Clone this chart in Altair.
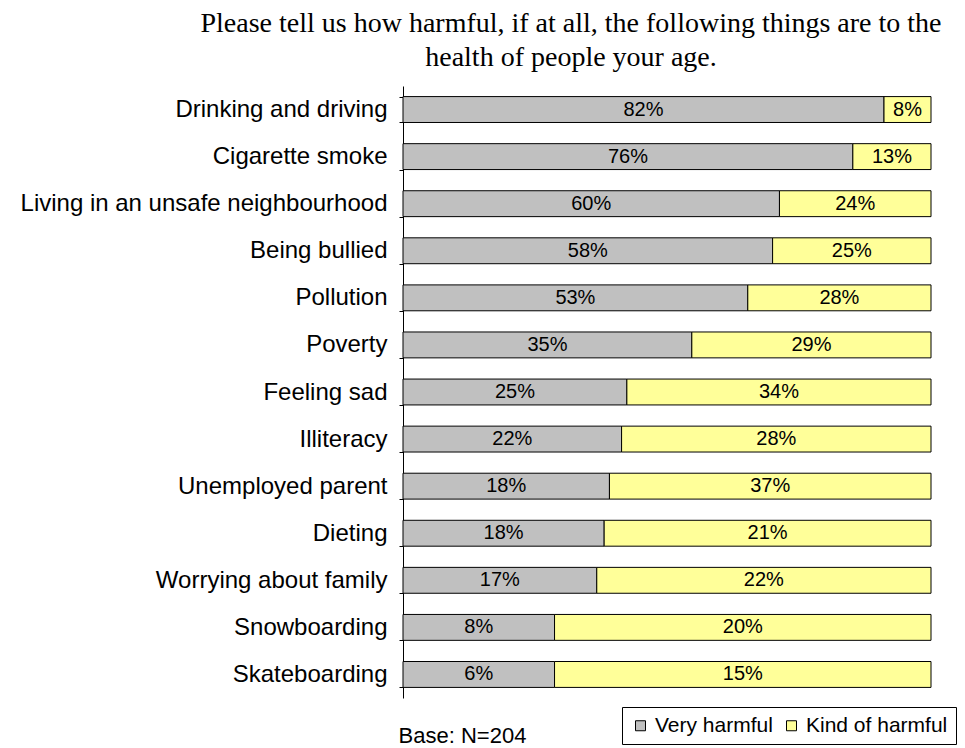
import altair as alt
import pandas as pd

categories = [
    "Drinking and driving",
    "Cigarette smoke",
    "Living in an unsafe neighbourhood",
    "Being bullied",
    "Pollution",
    "Poverty",
    "Feeling sad",
    "Illiteracy",
    "Unemployed parent",
    "Dieting",
    "Worrying about family",
    "Snowboarding",
    "Skateboarding",
]
# percentages printed on the bars
very_harmful = [82, 76, 60, 58, 53, 35, 25, 22, 18, 18, 17, 8, 6]
kind_of_harmful = [8, 13, 24, 25, 28, 29, 34, 28, 37, 21, 22, 20, 15]
# share of each bar drawn grey (%) (100% stacked bars)
very_share = [91.1, 85.2, 71.3, 70.0, 65.3, 54.7, 42.4, 41.4, 39.1, 38.1, 36.7, 28.7, 28.7]

series = ["Very harmful", "Kind of harmful"]
colors = ["#C0C0C0", "#FFFF99"]

rows = []
for c, v, k, s in zip(categories, very_harmful, kind_of_harmful, very_share):
    rows.append({"cat": c, "type": series[0], "value": v, "share": s, "order": 0})
    rows.append({"cat": c, "type": series[1], "value": k, "share": 100 - s, "order": 1})
df = pd.DataFrame(rows)

base = (
    alt.Chart(df)
    .transform_stack(
        stack="share",
        groupby=["cat"],
        as_=["x0", "x1"],
        offset="normalize",
        sort=[alt.SortField("order", order="ascending")],
    )
    .transform_calculate(mid="(datum.x0 + datum.x1) / 2", label="datum.value + '%'")
)

yenc = alt.Y(
    "cat:N",
    sort=categories,
    scale=alt.Scale(paddingInner=0.45, paddingOuter=0.225),
    axis=alt.Axis(
        title=None,
        labelFont="Liberation Sans",
        labelFontSize=24,
        labelColor="black",
        labelPadding=12,
        labelLimit=0,
        domainColor="black",
        domainWidth=1,
        ticks=True,
        tickBand="extent",
        tickSize=4,
        tickColor="black",
        grid=False,
    ),
)

bars = base.mark_bar(stroke="black", strokeWidth=1).encode(
    x=alt.X(
        "x0:Q",
        scale=alt.Scale(domain=[0, 1], nice=False),
        axis=alt.Axis(
            title="Base: N=204",
            labels=False,
            ticks=False,
            domain=False,
            grid=False,
            titleFont="Liberation Sans",
            titleFontSize=22,
            titleFontWeight="normal",
            titleColor="black",
            titleX=59,
            titleY=44,
            titleAlign="center",
            titleBaseline="alphabetic",
        ),
    ),
    x2="x1:Q",
    y=yenc,
    color=alt.Color(
        "type:N",
        scale=alt.Scale(domain=series, range=colors),
        legend=alt.Legend(
            title=None,
            orient="none",
            legendX=219,
            legendY=621,
            direction="horizontal",
            strokeColor="black",
            fillColor="white",
            padding=8,
            labelFont="Liberation Sans",
            labelFontSize=21,
            labelColor="black",
            symbolType="square",
            symbolSize=100,
            symbolStrokeColor="black",
            symbolStrokeWidth=1,
            columnPadding=8,
            labelOffset=4,
        ),
    ),
)

text = base.mark_text(
    font="Liberation Sans", fontSize=20, color="black", align="center", baseline="middle"
).encode(
    x=alt.X("mid:Q"),
    y=alt.Y("cat:N", sort=categories),
    text="label:N",
)

chart = (
    alt.layer(bars, text)
    .properties(
        width=528,
        height=612,
        autosize="none",
        padding={"left": 403, "top": 86, "right": 34, "bottom": 50},
        title=alt.Title(
            ["Please tell us how harmful, if at all, the following things are to the",
             "health of people your age."],
            font="Liberation Serif",
            fontSize=28,
            fontWeight="normal",
            color="black",
            anchor="middle",
            frame="group",
            dx=-96,
            lineHeight=34,
            offset=2,
        ),
    )
    .configure_view(stroke=None)
)

chart.save("out.html", embed_options={"renderer": "svg", "actions": False})
